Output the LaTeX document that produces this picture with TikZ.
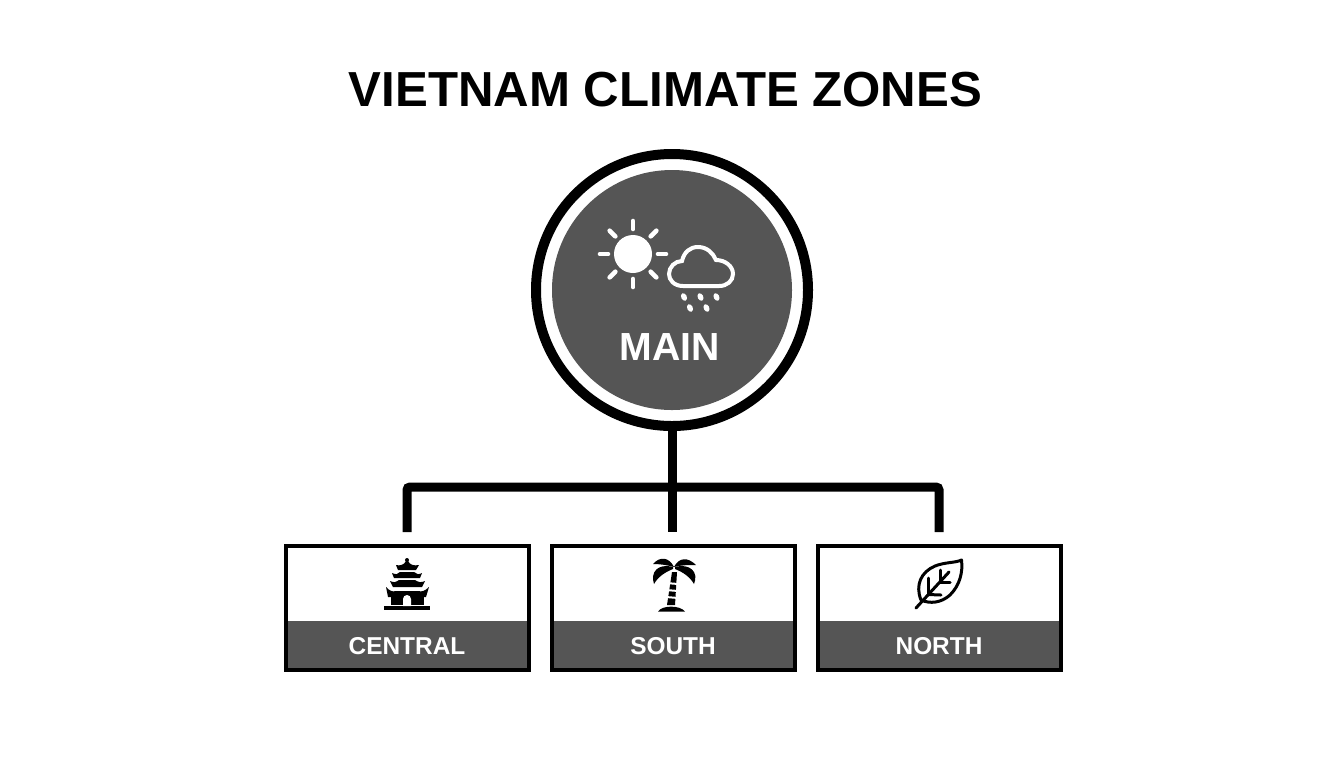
\documentclass[tikz,border=0pt]{standalone}
\usepackage{fontspec}
\setmainfont{Liberation Sans}
\usetikzlibrary{
  positioning,  % Function "of" (e.g. [right=of x])
}
\definecolor{mydark}{RGB}{85,85,85}
\def\myndist{11.5pt}
\tikzset{
  font=\bfseries,
  my title/.style={
    font=\fontsize{24.6}{28}\bfseries,
    inner sep=0mm
  },
  my ring/.style={
    draw,
    circle,
    line width=5pt,
    minimum size=136pt
  },
  my disc/.style={
    circle,
    fill=mydark,
    minimum size=120pt
  },
  my main/.style={
    font=\fontsize{19.6}{24}\bfseries,
    text=white,
    inner sep=0mm
  },
  my box/.style={
    draw,
    rectangle,
    line width=2pt,
    outer sep=0pt,
    minimum width=121.5pt,
    minimum height=62pt
  },
  my band/.style={
    fill=mydark,
    font=\fontsize{12.2}{14}\bfseries,
    text=white,
    inner sep=0mm,
    outer sep=0pt,
    minimum width=119.5pt,
    minimum height=23.5pt,
    text height=10pt,
    text depth=0pt
  },
  my link/.style={
    line width=4.5pt,
    rounded corners=1.5pt
  },
  my ray/.style={
    white,
    line width=2.3pt,
    line cap=round
  },
  my cloud/.style={
    draw=white,
    line width=2pt
  },
  my vein/.style={
    line width=1.5pt,
    line cap=round
  },
  my gap/.style={
    draw=white,
    line width=1pt
  }
}
\begin{document}
\begin{tikzpicture}[x=0.5pt,y=-0.5pt,node distance=\myndist]
\useasboundingbox (0,0) rectangle (1344,768);
\node[my title]       (title)   at (665.5,90) {VIETNAM CLIMATE ZONES};
\node[my ring]        (main)    at (672,290) {};
\node[my disc]        (disc)    at (main) {};
\node[my main]        (mainlabel) at (670,347) {MAIN};
\node[my box]         (central) at (407,608) {};
\node[my box]         (south)   [right=of central] {};
\node[my box]         (north)   [right=of south] {};
\node[my band,above=1pt of central.south] (centralband) {CENTRAL};
\node[my band,above=1pt of south.south]   (southband)   {SOUTH};
\node[my band,above=1pt of north.south]   (northband)   {NORTH};
\coordinate (bus) at (672,487);
\draw[my link,shorten >=7pt] (main.south) -- (main.south |- south.north);
\draw[my link,shorten >=7pt,shorten <=7pt] (central.north) |- (bus) -| (north.north);
% sun
\fill[white] (633,254) circle (19);
\foreach \a in {0,45,...,315}
  \draw[my ray] (633,254) ++(\a:25) -- ++(\a:8);
% cloud and rain
\draw[my cloud] (683,286) .. controls (674,286) and (669,280) .. (669,274)
  .. controls (669,267) and (675,261) .. (682,261)
  .. controls (684,252) and (690,247) .. (698,247)
  .. controls (707,247) and (713,253) .. (716,260)
  .. controls (725,260) and (733,266) .. (733,274)
  .. controls (733,281) and (727,286) .. (719,286) -- cycle;
\foreach \x/\y in {684/297,700.5/297,716.5/297,690/308,706.5/308}
  \fill[white,rotate around={25:(\x,\y)}] (\x,\y) ellipse (2.8 and 4);
% temple
\fill (384,606) rectangle (430,610);
\fill (391,593) rectangle (424,605);
\fill (386,587) .. controls (390,591) and (392,592) .. (396,591) -- (418,591)
  .. controls (422,592) and (425,591) .. (429,587) -- (426,597) -- (388,597) -- cycle;
\fill[white] (403,606) -- (403,599) arc (180:360:4) -- (411,606) -- cycle;
\fill (390,581) .. controls (394,583) and (396,582) .. (399,580) -- (415,580)
  .. controls (418,582) and (421,583) .. (425,581) -- (422,587) -- (393,587) -- cycle;
\fill (392,573) .. controls (396,575) and (398,574) .. (400,572) -- (414,572)
  .. controls (416,574) and (419,575) .. (422,573) -- (420,578) -- (394,578) -- cycle;
\fill (396,565) .. controls (400,566) and (404,565) .. (406,561) -- (408,561)
  .. controls (410,565) and (414,566) .. (419,565) -- (416,570) -- (398,570) -- cycle;
\fill (407,560) circle (2);
% palm
\fill (672,572) -- (677,572) -- (675,605) -- (667,605) -- cycle;
\foreach \y in {583,590,597}
  \draw[my gap] (666,\y) -- (678,\y+1);
\fill (658,611.5) .. controls (662,605) and (680,605) .. (685,611.5) -- cycle;
\fill (653,564) .. controls (660,556) and (669,557) .. (674,567)
  .. controls (667,565) and (660,564) .. (653,564) -- cycle;
\fill (696,565) .. controls (688,557) and (679,557) .. (674,567)
  .. controls (681,565) and (688,565) .. (696,565) -- cycle;
\fill (673,567) .. controls (658,563) and (650,572) .. (654,584)
  .. controls (658,577) and (665,572) .. (673,569) -- cycle;
\fill (675,567) .. controls (690,563) and (699,572) .. (694,584)
  .. controls (690,577) and (683,572) .. (675,569) -- cycle;
% leaf
\draw[my vein,line join=round] (921,600) .. controls (915,585) and (921,572) .. (935,566)
  .. controls (945,562) and (955,563) .. (961.5,560)
  .. controls (963,572) and (960,585) .. (950,595)
  .. controls (941,603) and (930,604) .. (921,600);
\draw[my vein] (916,608) -- (949,572);
\draw[my vein] (928,594.5) -- (928,578);
\draw[my vein] (940,582) -- (940,570);
\draw[my vein] (940,582) -- (950,582);
\draw[my vein] (928,594.5) -- (941,595);
\end{tikzpicture}
\end{document}
